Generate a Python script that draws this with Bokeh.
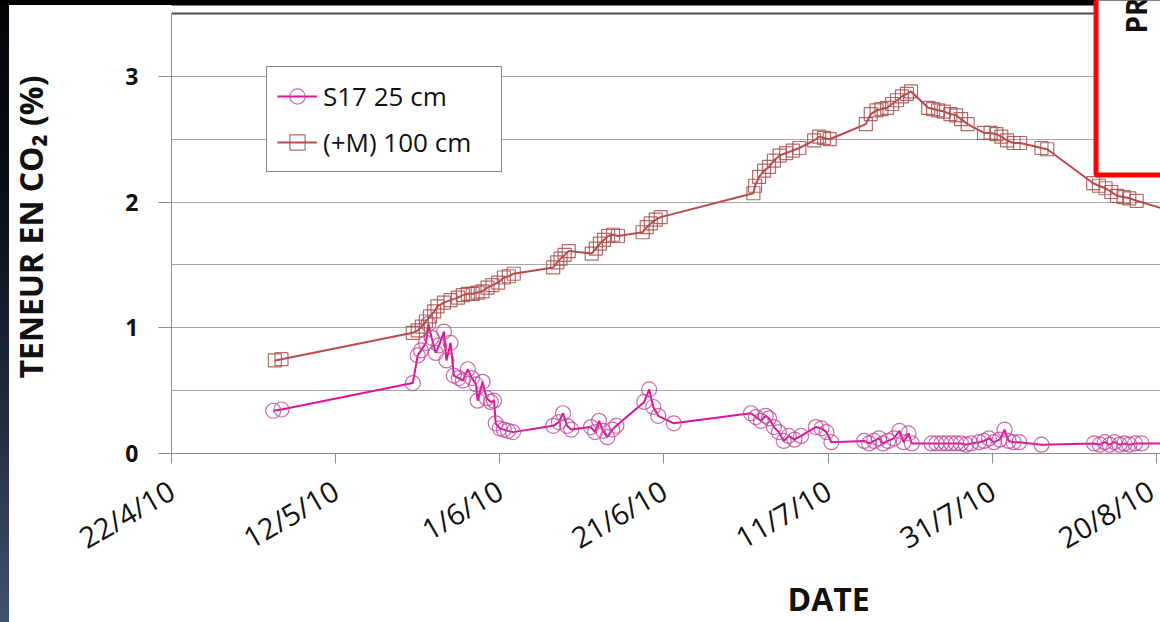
import math
from bokeh.plotting import figure
from bokeh.models import (Range1d, FixedTicker, Legend, LegendItem,
                          BoxAnnotation, Label, Span, Title)
from bokeh.embed import file_html
from bokeh.resources import INLINE

# ---------------- data ----------------
# x = days after 22/4/2010
tick_days = [0, 20, 40, 60, 80, 100, 120]
tick_labels = ["22/4/10", "12/5/10", "1/6/10", "21/6/10", "11/7/10", "31/7/10", "20/8/10"]
y_ticks = [0, 1, 2, 3]
y_minor = [0.5, 1.5, 2.5]

s17_label = "S17 25 cm"
s17_days = [12.4, 13.4,
            29.4, 30.0, 30.4, 31.0, 31.3, 31.7, 32.2, 32.6, 33.2, 33.5,
            34.0, 34.4, 35.0, 35.5, 36.1, 36.6, 37.1, 37.3, 37.9, 38.4,
            38.9, 39.3, 39.5, 40.0, 40.5, 41.0, 41.6,
            46.5, 47.2, 47.7, 48.2, 48.7,
            51.1, 51.6, 52.1, 52.6, 53.1, 53.7, 54.2,
            57.6, 58.2, 58.7, 59.3, 61.2,
            70.6, 71.2, 71.8, 72.4, 72.8, 73.4, 74.0, 74.6, 75.2, 75.9,
            76.7, 78.5, 79.2, 79.8, 80.4,
            84.4, 85.0, 85.6, 86.2, 86.7, 87.3, 88.0, 88.7, 89.2, 89.8,
            90.2,
            92.6, 93.2, 93.8, 94.4, 95.0, 95.6, 96.2, 96.8, 97.4,
            98.4, 99.0, 99.6, 100.2, 100.9, 101.5, 102.0, 102.6, 103.3, 106.0,
            112.4, 113.1, 113.7, 114.3, 114.9, 115.5, 116.1, 116.7, 117.4, 118.2,
            124.3]
s17_values = [0.34, 0.35,
              0.56, 0.78, 0.82, 0.88, 1.03, 0.92, 0.80, 0.86, 0.97, 0.74,
              0.88, 0.62, 0.60, 0.58, 0.67, 0.60, 0.55, 0.42, 0.57, 0.44,
              0.41, 0.42, 0.24, 0.20, 0.19, 0.18, 0.17,
              0.22, 0.25, 0.32, 0.22, 0.19,
              0.21, 0.17, 0.26, 0.18, 0.13, 0.19, 0.22,
              0.41, 0.51, 0.37, 0.30, 0.24,
              0.32, 0.29, 0.26, 0.30, 0.28, 0.21, 0.17, 0.10, 0.14, 0.11,
              0.14, 0.21, 0.20, 0.17, 0.09,
              0.10, 0.08, 0.10, 0.12, 0.08, 0.10, 0.12, 0.18, 0.09, 0.16,
              0.08,
              0.08, 0.08, 0.08, 0.08, 0.08, 0.08, 0.08, 0.07, 0.08,
              0.09, 0.10, 0.12, 0.09, 0.11, 0.19, 0.10, 0.09, 0.09, 0.07,
              0.08, 0.07, 0.09, 0.07, 0.09, 0.07, 0.08, 0.07, 0.08, 0.08,
              0.08]

m100_label = "(+M) 100 cm"
m100_days = [12.6, 13.4,
             29.4, 30.0, 30.5, 31.0, 31.5, 32.0, 32.4, 33.2, 34.0, 34.9,
             35.5, 36.1, 36.7, 37.3, 37.9, 38.5, 39.1, 39.8, 40.5, 41.1, 41.7,
             46.5, 47.0, 47.4, 47.9, 48.4,
             51.2, 51.7, 52.2, 52.7, 53.2, 53.8, 54.4,
             57.4, 57.9, 58.4, 59.0, 59.6,
             70.9, 71.1, 71.6, 72.2, 72.8, 73.4, 74.1, 74.9, 75.7, 76.5,
             78.3, 78.9, 79.5, 80.2,
             84.6, 85.2, 85.9, 86.5, 87.2, 87.8, 88.4, 89.0, 89.6, 90.1,
             92.2, 92.8, 93.4, 94.1, 94.9, 95.6, 96.2, 97.0,
             99.0, 99.8, 100.5, 101.1, 101.8, 102.6, 103.4,
             106.0, 106.7,
             112.3, 113.0, 113.8, 114.5, 115.2, 116.0, 116.7, 117.6,
             124.3]
m100_values = [0.74, 0.75,
               0.96, 0.98, 1.01, 1.05, 1.09, 1.13, 1.17, 1.20, 1.22, 1.24,
               1.26, 1.27, 1.27, 1.28, 1.29, 1.32, 1.34, 1.36, 1.40, 1.41, 1.43,
               1.48, 1.52, 1.55, 1.58, 1.61,
               1.59, 1.63, 1.67, 1.70, 1.73, 1.74, 1.73,
               1.76, 1.80, 1.83, 1.86, 1.88,
               2.07, 2.13, 2.20, 2.25, 2.28, 2.33, 2.37, 2.39, 2.41, 2.43,
               2.49, 2.52, 2.51, 2.50,
               2.62, 2.70, 2.73, 2.74, 2.75, 2.78, 2.81, 2.84, 2.86, 2.88,
               2.75, 2.74, 2.73, 2.72, 2.70, 2.69, 2.66, 2.62,
               2.55, 2.55, 2.54, 2.52, 2.49, 2.47, 2.47,
               2.43, 2.42,
               2.15, 2.13, 2.11, 2.08, 2.05, 2.04, 2.03, 2.01,
               1.88]

assert len(s17_days) == len(s17_values)
assert len(m100_days) == len(m100_values)

# ---------------- styles ----------------
FONT = "Open Sans"
MAG_LINE = "#e0129a"
MAG_MARK = "#c0469f"
BRN_LINE = "#c0484a"
BRN_MARK = "#a84f4f"
GRID = "#a6a6a6"
AXIS = "#8c8c8c"
INK = "#111111"
Y_TOP = 3.5          # top of the chart's own value axis
Y_VIEW_TOP = 3.6034  # view extends a little above it (slide margin)

p = figure(width=1160, height=622, output_backend="svg", toolbar_location=None,
           x_range=Range1d(0, 120.5), y_range=Range1d(0, Y_VIEW_TOP),
           min_border_left=171, min_border_right=0, min_border_top=0,
           min_border_bottom=169, background_fill_color=None,
           border_fill_color=None, outline_line_color=None)

# slide background: black top band, dark left band, white page
p.styles = {
    "background": (
        "linear-gradient(#000000, #000000) 0px 0px / 100% 5px no-repeat, "
        "linear-gradient(to bottom, #030407 0%, #0b101b 35%, #222d44 68%, #41526f 100%)"
        " 0px 0px / 9px 100% no-repeat, #ffffff"
    )
}

# x axis
xa = p.xaxis[0]
xa.ticker = FixedTicker(ticks=tick_days)
xa.major_label_overrides = dict(zip(tick_days, tick_labels))
xa.major_label_orientation = math.radians(30)
xa.major_tick_out = 10
xa.major_tick_in = 0
xa.minor_tick_line_color = None
xa.axis_line_color = AXIS
xa.major_tick_line_color = AXIS
xa.major_label_text_font = FONT
xa.major_label_text_font_size = "29px"
xa.major_label_text_color = INK
xa.major_label_standoff = 24
p.xgrid.grid_line_color = None

# y axis
ya = p.yaxis[0]
ya.ticker = FixedTicker(ticks=y_ticks, minor_ticks=y_minor)
ya.bounds = (0, Y_TOP)
ya.major_tick_out = 13
ya.major_tick_in = 0
ya.minor_tick_line_color = None
ya.axis_line_color = AXIS
ya.major_tick_line_color = AXIS
ya.major_label_text_font = FONT
ya.major_label_text_font_style = "bold"
ya.major_label_text_font_size = "23px"
ya.major_label_text_color = INK
ya.major_label_standoff = 20
ya.axis_label = "TENEUR EN CO₂ (%)"
ya.axis_label_text_font = FONT
ya.axis_label_text_font_style = "bold"
ya.axis_label_text_font_size = "32px"
ya.axis_label_text_color = INK
ya.axis_label_standoff = 70
p.ygrid.grid_line_color = GRID
p.ygrid.minor_grid_line_color = GRID

# black top band inside the plotting area, and top border of the chart
p.add_layout(BoxAnnotation(left=0, right=1160, top=0, bottom=5,
                           left_units="canvas", right_units="canvas",
                           top_units="canvas", bottom_units="canvas",
                           fill_color="black", fill_alpha=1, line_color=None,
                           level="underlay"))
p.add_layout(Span(location=Y_TOP, dimension="width", line_color="#4d4d4d",
                  line_width=2))

# series
l1 = p.line(s17_days, s17_values, line_color=MAG_LINE, line_width=2)
m1 = p.scatter(s17_days, s17_values, marker="circle", size=15, fill_color=None,
               line_color=MAG_MARK, line_alpha=0.8, line_width=1.2)
l2 = p.line(m100_days, m100_values, line_color=BRN_LINE, line_width=2)
m2 = p.scatter(m100_days, m100_values, marker="square", size=13, fill_color=None,
               line_color=BRN_MARK, line_alpha=0.85, line_width=1.2)

legend = Legend(items=[LegendItem(label=s17_label, renderers=[l1, m1]),
                       LegendItem(label=m100_label, renderers=[l2, m2])],
                location=(95, 281), orientation="vertical",
                glyph_width=40, glyph_height=38, label_height=38, label_width=168,
                label_standoff=6, spacing=8, padding=10, margin=0,
                label_text_font=FONT, label_text_font_size="26px",
                label_text_color=INK, border_line_color=INK,
                border_line_width=1, background_fill_color="white",
                background_fill_alpha=1)
p.add_layout(legend)

# x axis title placed under the tick labels
p.add_layout(Title(text="DATE", align="left", offset=616, standoff=0,
                   vertical_align="top", text_font=FONT, text_font_style="bold",
                   text_font_size="32px", text_color=INK), "below")

# red frame of the neighbouring slide element (top right)
p.add_layout(BoxAnnotation(left=1095.5, right=1200, top=-10, bottom=174.5,
                           left_units="canvas", right_units="canvas",
                           top_units="canvas", bottom_units="canvas",
                           fill_color="white", fill_alpha=1, line_color="#ff0000",
                           line_width=5, line_alpha=1, level="overlay"))
p.add_layout(Label(x=1135, y=33, x_units="canvas", y_units="canvas", text="PR",
                   angle=math.pi / 2, text_font=FONT, text_font_style="bold",
                   text_font_size="28px", text_color=INK,
                   text_align="left", text_baseline="middle", level="overlay"))

open("out.html", "w").write(file_html(p, INLINE))
